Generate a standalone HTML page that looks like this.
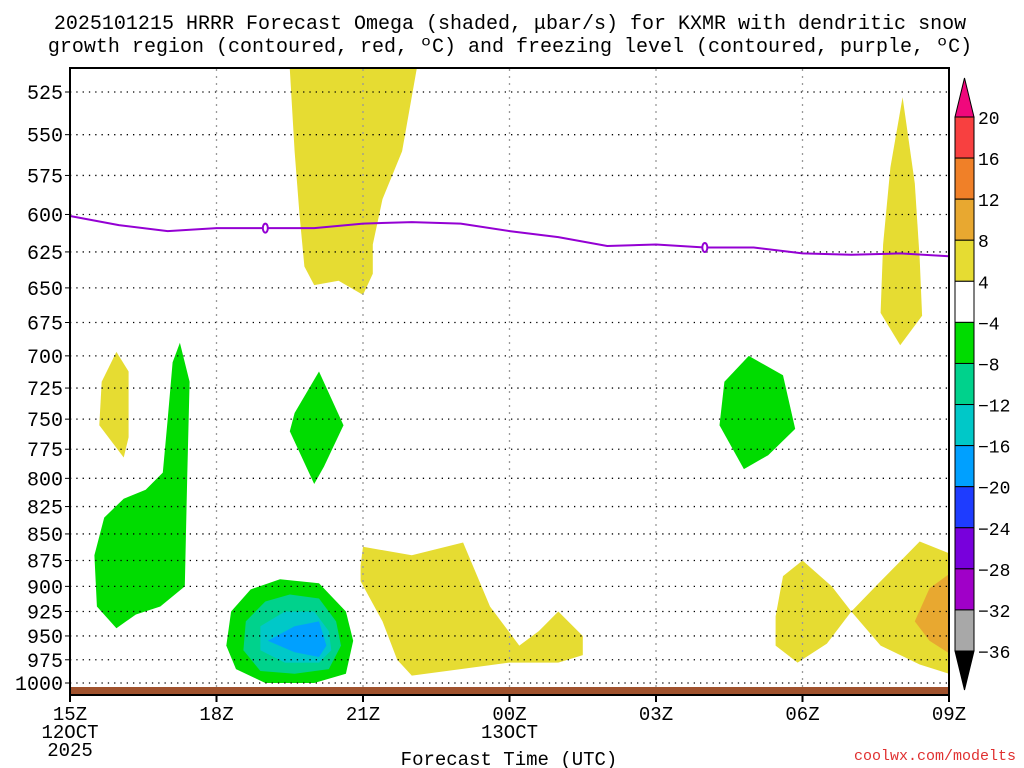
<!DOCTYPE html>
<html><head><meta charset="utf-8"><style>
html,body{margin:0;padding:0;background:#fff;}
svg{display:block;font-family:"Liberation Mono",monospace;}
</style></head><body>
<svg id="chart" width="1024" height="768" viewBox="0 0 1024 768" xmlns="http://www.w3.org/2000/svg">
<text x="510" y="29" font-size="20" text-anchor="middle" fill="#000">2025101215 HRRR Forecast Omega (shaded, μbar/s) for KXMR with dendritic snow</text>
<text x="510" y="52" font-size="20" text-anchor="middle" fill="#000">growth region (contoured, red, ºC) and freezing level (contoured, purple, ºC)</text>
<g id="shades"></g>
<g id="grid"></g>
<rect x="70" y="687" width="879" height="7" fill="#a0522d"/>
<g id="fzl"></g>
<rect x="70" y="68" width="879" height="627" fill="none" stroke="#000" stroke-width="2"/>
<g id="axes"></g>
<g id="cbar"></g>
<text x="509" y="765" font-size="19" text-anchor="middle" fill="#000">Forecast Time (UTC)</text>
<text x="1016" y="760" font-size="15" text-anchor="end" fill="#e03030">coolwx.com/modelts</text>
</svg>
<script>
const pressureTicks=[525,550,575,600,625,650,675,700,725,750,775,800,825,850,875,900,925,950,975,1000];
const timeTickHours=[0,3,6,9,12,15,18];
const timeTickLabels=[["15Z","12OCT","2025"],["18Z"],["21Z"],["00Z","13OCT"],["03Z"],["06Z"],["09Z"]];
const fzlHours=[0,1,2,3,4,5,6,7,8,9,10,11,12,13,14,15,16,17,18];
const fzlPressure=[601,607,611,609,609,609,606,605,606,611,615,621,620,622,622,626,627,626,628];
const fzlLabelHours=[4,13];
const cbarLevels=[20,16,12,8,4,-4,-8,-12,-16,-20,-24,-28,-32,-36];
const cbarColors=["#f84040","#f08028","#e8a830","#e6dc32","#ffffff","#00dc00","#00d28c","#00c8c8","#00a0ff","#1e3cff","#7800dc","#a000c8","#a8a8a8"];
const polyYellowTop=[[4.5,505],[7.1,505],[6.8,560],[6.4,590],[6.2,620],[6.2,640],[6.0,655],[5.5,645],[5.0,648],[4.8,635],[4.7,600],[4.6,560]];
const polyYellowSpike=[[17.05,528],[17.3,580],[17.4,630],[17.45,670],[17.0,692],[16.6,668],[16.65,620],[16.8,570]];
const polyYellowLeft=[[0.65,720],[0.95,697],[1.2,712],[1.2,765],[1.1,782],[0.6,755]];
const polyGreenLeft=[[1.9,795],[2.0,750],[2.1,705],[2.25,690],[2.45,720],[2.4,800],[2.35,900],[1.85,920],[1.35,928],[0.95,942],[0.55,920],[0.5,870],[0.7,835],[1.1,818],[1.55,810]];
const polyGreenMid=[[4.6,745],[5.1,712],[5.6,755],[5.2,790],[5.0,805],[4.5,760]];
const polyGreenRight=[[13.4,720],[13.9,700],[14.6,715],[14.85,758],[14.3,780],[13.8,792],[13.3,755]];
const polyBlobGreen=[[3.3,925],[3.7,903],[4.3,893],[5.1,897],[5.65,925],[5.8,955],[5.65,990],[5.0,1000],[4.0,1000],[3.4,985],[3.2,960]];
const polyBlobTeal=[[3.6,935],[4.0,915],[4.5,908],[5.1,912],[5.45,935],[5.55,960],[5.3,985],[4.6,990],[3.9,987],[3.55,965]];
const polyBlobCyan=[[3.9,940],[4.4,925],[5.0,925],[5.3,945],[5.35,965],[5.1,978],[4.4,978],[3.9,965]];
const polyBlobBlue=[[4.05,955],[4.6,940],[5.1,935],[5.25,960],[5.1,972],[4.6,967]];
const polyYellowBotMid=[[5.95,880],[6.0,862],[7.0,870],[8.05,858],[8.6,920],[9.2,960],[9.6,945],[10.0,925],[10.5,950],[10.5,970],[10.0,978],[9.0,978],[8.0,985],[7.0,992],[6.7,975],[6.4,935],[5.95,895]];
const polyYellowBotRight=[[14.45,930],[14.6,890],[15.0,875],[15.6,900],[16.0,925],[16.6,895],[17.4,857],[18,868],[18,990],[17.4,980],[16.6,960],[16.0,925],[15.5,958],[14.9,978],[14.45,960]];
const polyOrange=[[17.3,935],[17.6,902],[18,888],[18,968],[17.6,955]];

const NS="http://www.w3.org/2000/svg";
const X0=70,X1=949,Ytop=92,Ybot=683;
const lnMin=Math.log(525),lnMax=Math.log(1000);
function xs(h){return X0+h*(X1-X0)/18;}
function ys(p){return Ytop+(Math.log(p)-lnMin)/(lnMax-lnMin)*(Ybot-Ytop);}
function mk(tag,attrs,parent){const e=document.createElementNS(NS,tag);for(const k in attrs)e.setAttribute(k,attrs[k]);parent.appendChild(e);return e;}
const shades=document.getElementById('shades');
function poly(pts,color,name){
  const d=pts.map((p,i)=>(i?'L':'M')+xs(p[0]).toFixed(1)+','+Math.max(69,ys(p[1])).toFixed(1)).join('')+'Z';
  const e=mk('path',{d:d,fill:color},shades);
  
  
}
poly(polyYellowTop,"#e6dc32","omega-area-yellow-top");
poly(polyYellowSpike,"#e6dc32","omega-area-yellow-spike");
poly(polyYellowLeft,"#e6dc32","omega-area-yellow-left");
poly(polyGreenLeft,"#00dc00","omega-area-green-left");
poly(polyGreenMid,"#00dc00","omega-area-green-mid");
poly(polyGreenRight,"#00dc00","omega-area-green-right");
poly(polyBlobGreen,"#00dc00","omega-area-green-blob");
poly(polyBlobTeal,"#00d28c","omega-area-teal-blob");
poly(polyBlobCyan,"#00c8c8","omega-area-cyan-blob");
poly(polyBlobBlue,"#00a0ff","omega-area-blue-blob");
poly(polyYellowBotMid,"#e6dc32","omega-area-yellow-bottom-mid");
poly(polyYellowBotRight,"#e6dc32","omega-area-yellow-bottom-right");
poly(polyOrange,"#e8a830","omega-area-orange");

const grid=document.getElementById('grid'),axes=document.getElementById('axes');
pressureTicks.forEach(p=>{
  const y=ys(p);
  const l=mk('line',{x1:X0,x2:X1,y1:y,y2:y,stroke:"#000","stroke-width":1.3,"stroke-dasharray":"1.3,5"},grid);
  
  
  const t=mk('line',{x1:X0-5,x2:X0,y1:y,y2:y,stroke:"#000"},axes);
  
  
  const tx=mk('text',{x:X0-7,y:y+7,"font-size":20,"text-anchor":"end",fill:"#000"},axes);
  tx.textContent=p;
  
  
});
timeTickHours.forEach((h,i)=>{
  const x=xs(h);
  if(i>0&&i<timeTickHours.length-1){
    const l=mk('line',{x1:x,x2:x,y1:69,y2:694,stroke:"#999","stroke-width":1.3,"stroke-dasharray":"2,5"},grid);
    
    
  }
  const t=mk('line',{x1:x,x2:x,y1:695,y2:702,stroke:"#000","stroke-width":2},axes);
  
  
  timeTickLabels[i].forEach((s,j)=>{
    const tx=mk('text',{x:x,y:720+j*18,"font-size":19,"text-anchor":"middle",fill:"#000"},axes);
    tx.textContent=s;
    
    
  });
});
const fzl=document.getElementById('fzl');
const fd=fzlHours.map((h,i)=>(i?'L':'M')+xs(h).toFixed(1)+','+ys(fzlPressure[i]).toFixed(1)).join('');
const fl=mk('path',{d:fd,fill:"none",stroke:"#9400d3","stroke-width":2},fzl);


fzlLabelHours.forEach(h=>{
  const p=fzlPressure[fzlHours.indexOf(h)];
  const e=mk('ellipse',{cx:xs(h),cy:ys(p),rx:2.5,ry:4.5,fill:"#fff",stroke:"#9400d3","stroke-width":2},fzl);
  
  
});
const cb=document.getElementById('cbar');
const cx0=955,cw=19,ctop=117,cstep=(651-117)/13;
const tri1=mk('path',{d:`M${cx0},${ctop}L${cx0+cw/2},78L${cx0+cw},${ctop}Z`,fill:"#f0087c",stroke:"#000"},cb);


cbarColors.forEach((c,i)=>{
  const r=mk('rect',{x:cx0,y:ctop+i*cstep,width:cw,height:cstep,fill:c,stroke:"#000"},cb);
  
  
});
const tri2=mk('path',{d:`M${cx0},651L${cx0+cw/2},690L${cx0+cw},651Z`,fill:"#000",stroke:"#000"},cb);


cbarLevels.forEach((v,i)=>{
  const t=mk('text',{x:978,y:ctop+i*cstep+7,"font-size":18,fill:"#000"},cb);
  t.textContent=v<0?'\u2212'+(-v):v;
  
  
});
</script>
</body></html>
